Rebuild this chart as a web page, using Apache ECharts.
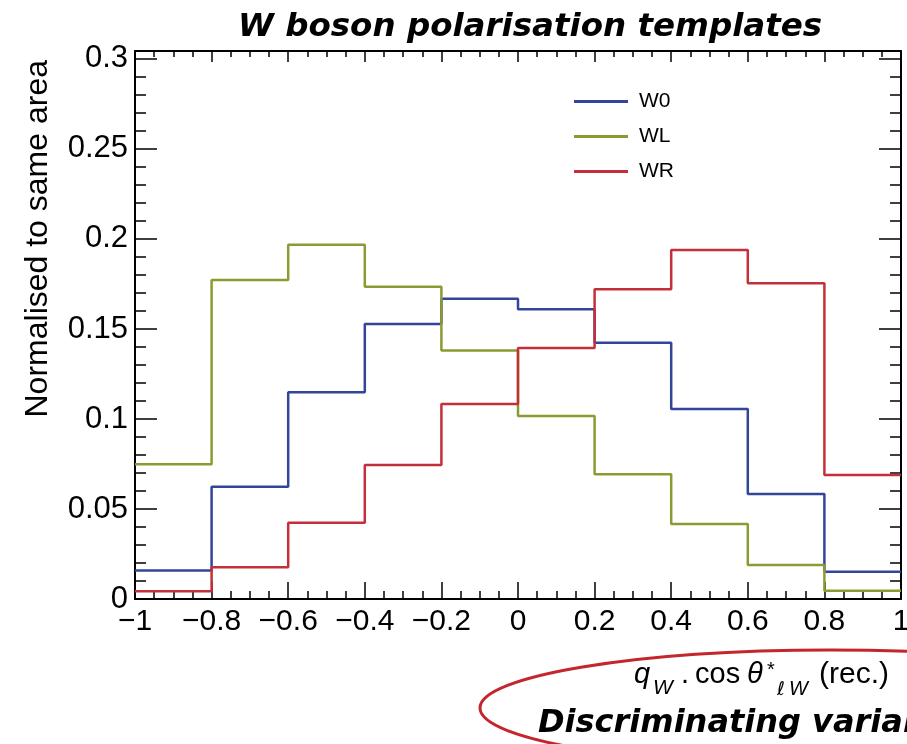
<!DOCTYPE html>
<html>
<head>
<meta charset="utf-8">
<script src="https://cdn.jsdelivr.net/npm/echarts@6/dist/echarts.min.js"></script>
<style>
html, body { margin: 0; padding: 0; background: #fff; }
#chart { width: 907px; height: 744px; }
</style>
</head>
<body>
<div id="chart"></div>
<script>
// bin edges of the histogram and the content of each bin (10 bins)
const binEdges = [-1, -0.8, -0.6, -0.4, -0.2, 0, 0.2, 0.4, 0.6, 0.8, 1];
const w0 = [0.0159, 0.0624, 0.1148, 0.1528, 0.1668, 0.1610, 0.1424, 0.1056, 0.0583, 0.0152];
const wl = [0.0748, 0.1772, 0.1968, 0.1735, 0.1380, 0.1017, 0.0693, 0.0417, 0.0189, 0.0046];
const wr = [0.0043, 0.0176, 0.0424, 0.0744, 0.1083, 0.1394, 0.1720, 0.1939, 0.1754, 0.0689];
const seriesNames = ['W0', 'WL', 'WR'];
const seriesColors = ['#32459a', '#8b9b32', '#c3303a'];

// histogram outline: one point per left edge, plus the last right edge
const toSteps = vals => vals.map((v, i) => [binEdges[i], v]).concat([[binEdges[binEdges.length - 1], vals[vals.length - 1]]]);

const font = 'Liberation Sans, Arial, sans-serif';
const boldFont = 'DejaVu Sans';
const chart = echarts.init(document.getElementById('chart'));

const xLabel = v => String(Math.round(v * 10) / 10).replace('-', '\u2212');
const yLabel = v => {
  const k = v / 0.05;
  if (Math.abs(k - Math.round(k)) > 1e-6) return '';
  return String(Math.round(v * 100) / 100);
};

const frameLine = { show: true, onZero: false, lineStyle: { color: '#000', width: 2 } };

function xAxisDef(pos) {
  const bottom = pos === 'bottom';
  return {
    type: 'value', position: pos,
    min: -1, max: 1, interval: 0.2,
    axisLine: frameLine,
    axisTick: { show: true, inside: true, length: bottom ? 17 : 11, lineStyle: { color: '#000', width: 1.5 } },
    minorTick: { show: true, splitNumber: 4, length: bottom ? 8 : 6, lineStyle: { color: '#000', width: 1.5 } },
    splitLine: { show: false },
    axisLabel: {
      show: bottom, color: '#000', fontSize: 30, fontFamily: font,
      margin: 8, formatter: xLabel
    }
  };
}
function yAxisDef(pos) {
  return {
    type: 'value', position: pos,
    min: 0, max: 0.3044, interval: 0.05,
    axisLine: frameLine,
    axisTick: { show: true, inside: true, length: 22, lineStyle: { color: '#000', width: 1.5 } },
    minorTick: { show: true, splitNumber: 5, length: 11, lineStyle: { color: '#000', width: 1.5 } },
    splitLine: { show: false },
    axisLabel: {
      show: pos === 'left', color: '#000', fontSize: 31, fontFamily: font,
      margin: 7, formatter: yLabel
    }
  };
}

// helper for the pieces of the x-axis title (y is the vertical middle of the glyph box)
const piece = (x, y, text, size, italic, family) => ({
  type: 'text', x: x, y: y,
  style: { text: text, fontFamily: family || font, fontStyle: italic ? 'italic' : 'normal', fontSize: size, fill: '#000', verticalAlign: 'middle' }
});

const option = {
  animation: false,
  backgroundColor: '#fff',
  grid: { left: 135, right: 6, top: 51, bottom: 145, outerBoundsMode: 'none' },
  legend: {
    data: seriesNames,
    orient: 'vertical', left: 574, top: 91,
    padding: 0, itemGap: 14,
    itemWidth: 54, itemHeight: 3, icon: 'rect',
    textStyle: { fontFamily: font, fontSize: 21, color: '#000', padding: [0, 0, 0, 6] }
  },
  xAxis: [xAxisDef('bottom'), xAxisDef('top')],
  yAxis: [yAxisDef('left'), yAxisDef('right')],
  series: [w0, wl, wr].map((vals, i) => ({
    name: seriesNames[i],
    type: 'line',
    step: 'end',
    xAxisIndex: 0, yAxisIndex: 0,
    showSymbol: false,
    color: seriesColors[i],
    lineStyle: { width: 2.5, color: seriesColors[i] },
    data: toSteps(vals)
  })),
  graphic: [
    {
      type: 'text', x: 238, y: 28,
      style: { text: 'W boson polarisation templates', fontFamily: boldFont, fontStyle: 'italic', fontWeight: 'bold', fontSize: 32.5, fill: '#000', verticalAlign: 'middle' }
    },
    {
      type: 'text', x: 38, y: 60, rotation: Math.PI / 2,
      style: { text: 'Normalised to same area', fontFamily: font, fontSize: 32, fill: '#000', align: 'right', verticalAlign: 'middle' }
    },
    piece(634, 675, 'q', 29, true),
    piece(653, 688, 'W', 21, true),
    piece(681, 675, '.', 29, false),
    piece(695, 675, 'cos', 29, false),
    piece(747, 675, '\u03B8', 29, true),
    piece(767, 670, '*', 20, false),
    piece(777, 690, '\u2113', 19, true, 'DejaVu Sans'),
    piece(789, 689, 'W', 20, true),
    piece(819, 675, '(rec.)', 30, false),
    {
      type: 'text', x: 538, y: 724,
      style: { text: 'Discriminating variable', fontFamily: boldFont, fontStyle: 'italic', fontWeight: 'bold', fontSize: 32, fill: '#000', verticalAlign: 'middle' }
    },
    {
      type: 'ellipse', shape: { cx: 830, cy: 708, rx: 350, ry: 58 },
      style: { fill: 'none', stroke: '#c4262e', lineWidth: 3 }
    }
  ]
};
chart.setOption(option);
</script>
</body>
</html>
